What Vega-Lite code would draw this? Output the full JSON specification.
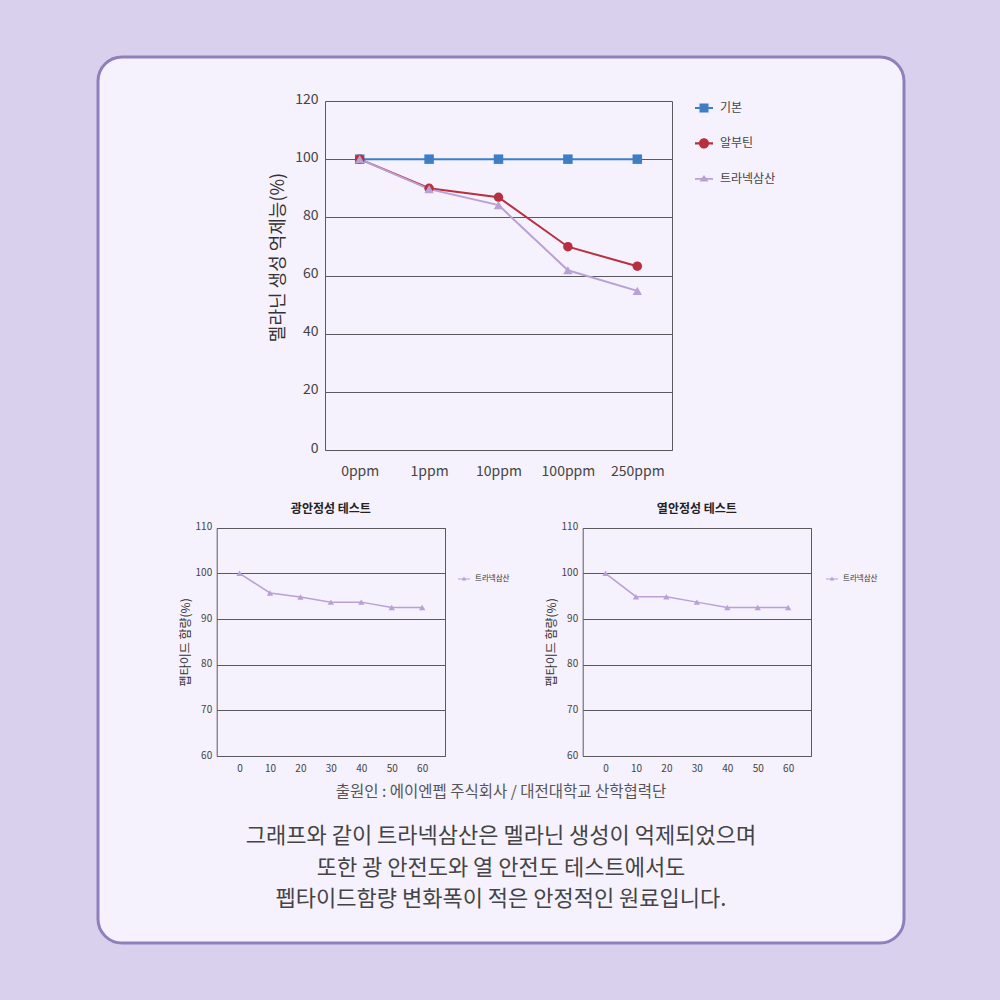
{
  "$schema": "https://vega.github.io/schema/vega-lite/v6.json",
  "width": 806,
  "height": 886,
  "autosize": {"type": "none"},
  "padding": {"left": 98, "top": 57, "right": 96, "bottom": 57},
  "background": "#d9d0ee",
  "view": {"fill": "#f5f1fd", "stroke": "#8e80bb", "strokeWidth": 3, "cornerRadius": 24, "opacity": 1, "fillOpacity": 1},
  "title": {
    "text": "출원인 : 에이엔펩 주식회사 / 대전대학교 산학협력단",
    "subtitle": ["그래프와 같이 트라넥삼산은 멜라닌 생성이 억제되었으며", "또한 광 안전도와 열 안전도 테스트에서도", "펩타이드함량 변화폭이 적은 안정적인 원료입니다."],
    "orient": "bottom",
    "anchor": "middle",
    "frame": "group",
    "offset": -158,
    "font": "Noto Sans CJK KR",
    "fontSize": 15.5,
    "fontWeight": "normal",
    "color": "#555555",
    "subtitleFont": "Noto Sans CJK KR",
    "subtitleFontSize": 22,
    "subtitleColor": "#444444",
    "subtitlePadding": 25.5,
    "subtitleLineHeight": 31.6
  },
  "layer": [
    {
      "data": {"values": [
        {"conc": "0ppm", "series": "기본", "value": 100},
        {"conc": "1ppm", "series": "기본", "value": 100},
        {"conc": "10ppm", "series": "기본", "value": 100},
        {"conc": "100ppm", "series": "기본", "value": 100},
        {"conc": "250ppm", "series": "기본", "value": 100},
        {"conc": "0ppm", "series": "알부틴", "value": 100},
        {"conc": "1ppm", "series": "알부틴", "value": 90},
        {"conc": "10ppm", "series": "알부틴", "value": 86.9},
        {"conc": "100ppm", "series": "알부틴", "value": 69.9},
        {"conc": "250ppm", "series": "알부틴", "value": 63.2},
        {"conc": "0ppm", "series": "트라넥삼산", "value": 100},
        {"conc": "1ppm", "series": "트라넥삼산", "value": 89.7},
        {"conc": "10ppm", "series": "트라넥삼산", "value": 84.2},
        {"conc": "100ppm", "series": "트라넥삼산", "value": 61.8},
        {"conc": "250ppm", "series": "트라넥삼산", "value": 54.7}
      ]},
      "layer": [
        {
          "mark": {"type": "line", "strokeWidth": 2},
          "encoding": {
            "x": {"field": "conc", "type": "nominal", "sort": ["0ppm", "1ppm", "10ppm", "100ppm", "250ppm"],
                  "scale": {"type": "point", "range": [227, 574], "padding": 0.5},
                  "axis": {"orient": "bottom", "offset": -493, "title": null, "grid": false, "ticks": false, "domain": true, "labelAngle": 0, "labelFontSize": 14, "labelPadding": 14, "labelColor": "#444444"}},
            "y": {"field": "value", "type": "quantitative",
                  "scale": {"domain": [0, 120], "range": [393, 44], "nice": false, "zero": false},
                  "axis": {"orient": "left", "offset": -227, "values": [0, 20, 40, 60, 80, 100, 120], "grid": true, "ticks": false, "domain": true, "labelFontSize": 14, "labelPadding": 7, "labelOffset": -2, "labelColor": "#444444",
                           "title": "멜라닌 생성 억제능(%)", "titleFontSize": 18, "titleFontWeight": "normal", "titleColor": "#333333", "titleX": -47, "titleY": 200, "titleBaseline": "middle", "titleAngle": -90}},
            "color": {"field": "series", "type": "nominal",
                      "scale": {"domain": ["기본", "알부틴", "트라넥삼산"], "range": ["#3d7ec6", "#b8303f", "#b9a1d5"]},
                      "legend": null}
          }
        },
        {
          "mark": {"type": "point", "filled": true, "size": 90, "opacity": 1},
          "encoding": {
            "x": {"field": "conc", "type": "nominal", "sort": ["0ppm", "1ppm", "10ppm", "100ppm", "250ppm"],
                  "scale": {"type": "point", "range": [227, 574], "padding": 0.5}, "axis": null},
            "y": {"field": "value", "type": "quantitative",
                  "scale": {"domain": [0, 120], "range": [393, 44], "nice": false, "zero": false}, "axis": null},
            "color": {"field": "series", "type": "nominal",
                      "scale": {"domain": ["기본", "알부틴", "트라넥삼산"], "range": ["#3d7ec6", "#b8303f", "#b9a1d5"]},
                      "legend": null},
            "shape": {"field": "series", "type": "nominal",
                      "scale": {"domain": ["기본", "알부틴", "트라넥삼산"], "range": ["square", "circle", "triangle-up"]},
                      "legend": null}
          }
        },
        {
          "mark": {"type": "point", "opacity": 0},
          "encoding": {
            "y": {"field": "value", "type": "quantitative",
                  "scale": {"domain": [0, 120], "range": [393, 44], "nice": false, "zero": false},
                  "axis": {"orient": "right", "offset": -232, "labels": false, "ticks": false, "grid": false, "title": null, "domain": true}}
          }
        },
        {
          "data": {"values": [{"series": "기본"}]},
          "mark": {"type": "point", "opacity": 0, "filled": true},
          "encoding": {
            "color": {"field": "series", "type": "nominal",
                      "scale": {"domain": ["기본"], "range": ["#3d7ec6"]},
                      "legend": {"orient": "none", "legendX": 597, "legendY": 42, "title": null, "padding": 0,
                                 "symbolSize": 324, "labelFontSize": 12, "labelColor": "#444444", "labelOffset": 7,
                                 "encode": {"symbols": {"update": {
                                   "shape": {"value": "M-1,-0.12H1V0.12H-1Z M-0.5,-0.5H0.5V0.5H-0.5Z"},
                                   "fill": {"value": "#3d7ec6"},
                                   "stroke": {"value": "transparent"},
                                   "strokeWidth": {"value": 0},
                                   "size": {"value": 324},
                                   "opacity": {"value": 1}
                                 }}}}}
          }
        },
        {
          "data": {"values": [{"series": "알부틴"}]},
          "mark": {"type": "point", "opacity": 0, "filled": true},
          "encoding": {
            "color": {"field": "series", "type": "nominal",
                      "scale": {"domain": ["알부틴"], "range": ["#b8303f"]},
                      "legend": {"orient": "none", "legendX": 597, "legendY": 77.4, "title": null, "padding": 0,
                                 "symbolSize": 324, "labelFontSize": 12, "labelColor": "#444444", "labelOffset": 7,
                                 "encode": {"symbols": {"update": {
                                   "shape": {"value": "M-1,-0.12H1V0.12H-1Z M-0.56,0 A0.56,0.56 0 1,1 0.56,0 A0.56,0.56 0 1,1 -0.56,0Z"},
                                   "fill": {"value": "#b8303f"},
                                   "stroke": {"value": "transparent"},
                                   "strokeWidth": {"value": 0},
                                   "size": {"value": 324},
                                   "opacity": {"value": 1}
                                 }}}}}
          }
        },
        {
          "data": {"values": [{"series": "트라넥삼산"}]},
          "mark": {"type": "point", "opacity": 0, "filled": true},
          "encoding": {
            "color": {"field": "series", "type": "nominal",
                      "scale": {"domain": ["트라넥삼산"], "range": ["#b9a1d5"]},
                      "legend": {"orient": "none", "legendX": 597, "legendY": 112.8, "title": null, "padding": 0,
                                 "symbolSize": 324, "labelFontSize": 12, "labelColor": "#444444", "labelOffset": 7,
                                 "encode": {"symbols": {"update": {
                                   "shape": {"value": "M-1,-0.1H1V0.1H-1Z M0,-0.42L0.5,0.3L-0.5,0.3Z"},
                                   "fill": {"value": "#b9a1d5"},
                                   "stroke": {"value": "transparent"},
                                   "strokeWidth": {"value": 0},
                                   "size": {"value": 324},
                                   "opacity": {"value": 1}
                                 }}}}}
          }
        }
      ],
      "resolve": {"axis": {"y": "independent", "x": "independent"}, "scale": {"color": "independent"}, "legend": {"color": "independent"}}
    },
    {
      "data": {"values": [
        {"t": 0, "v": 100, "s": "트라넥삼산"},
        {"t": 10, "v": 95.7, "s": "트라넥삼산"},
        {"t": 20, "v": 94.8, "s": "트라넥삼산"},
        {"t": 30, "v": 93.7, "s": "트라넥삼산"},
        {"t": 40, "v": 93.7, "s": "트라넥삼산"},
        {"t": 50, "v": 92.5, "s": "트라넥삼산"},
        {"t": 60, "v": 92.5, "s": "트라넥삼산"}
      ]},
      "layer": [
        {
          "mark": {"type": "line", "strokeWidth": 1.5, "point": {"filled": true, "size": 40, "shape": "triangle-up", "opacity": 1}},
          "encoding": {
            "x": {"field": "t", "type": "quantitative",
                  "scale": {"domain": [-7.5, 67.5], "range": [118.7, 347], "nice": false, "zero": false},
                  "axis": {"orient": "bottom", "offset": -187, "values": [0, 10, 20, 30, 40, 50, 60], "title": null, "grid": false, "ticks": false, "domain": true, "labelFontSize": 10, "labelPadding": 7, "labelColor": "#444444"}},
            "y": {"field": "v", "type": "quantitative",
                  "scale": {"domain": [60, 110], "range": [699, 470.7], "nice": false, "zero": false},
                  "axis": {"orient": "left", "offset": -118.7, "values": [60, 70, 80, 90, 100, 110], "grid": true, "ticks": false, "domain": true, "labelFontSize": 10, "labelPadding": 5, "labelOffset": -1, "labelColor": "#444444",
                           "title": "펩타이드 함량(%)", "titleFontSize": 12, "titleFontWeight": "normal", "titleColor": "#333333", "titleX": -31.7, "titleBaseline": "middle", "titleAngle": -90}},
            "color": {"field": "s", "type": "nominal",
                      "scale": {"domain": ["트라넥삼산"], "range": ["#b9a1d5"]},
                      "legend": {"orient": "none", "legendX": 360, "legendY": 516, "title": null, "padding": 0,
                                 "symbolSize": 144, "labelFontSize": 7.5, "labelColor": "#333333", "labelOffset": 5,
                                 "encode": {"symbols": {"update": {
                                   "shape": {"value": "M-1,-0.09H1V0.09H-1Z M0,-0.4L0.38,0.24L-0.38,0.24Z"},
                                   "fill": {"value": "#b9a1d5"},
                                   "stroke": {"value": "transparent"},
                                   "strokeWidth": {"value": 0},
                                   "size": {"value": 144},
                                   "opacity": {"value": 1}
                                 }}}}}
          }
        },
        {
          "data": {"values": [{"title": "광안정성 테스트"}]},
          "mark": {"type": "text", "fontSize": 12, "fontWeight": "bold", "color": "#222222", "baseline": "middle", "align": "center"},
          "encoding": {
            "text": {"field": "title"},
            "x": {"datum": 30, "type": "quantitative", "scale": {"domain": [-7.5, 67.5], "range": [118.7, 347], "nice": false, "zero": false}, "axis": null},
            "y": {"datum": 114.1, "type": "quantitative",
                  "scale": {"domain": [60, 110], "range": [699, 470.7], "nice": false, "zero": false},
                  "axis": {"orient": "right", "offset": -459, "labels": false, "ticks": false, "grid": false, "title": null, "domain": true}}
          }
        }
      ],
      "resolve": {"axis": {"y": "independent", "x": "independent"}}
    },
    {
      "data": {"values": [
        {"t": 0, "v": 100, "s": "트라넥삼산"},
        {"t": 10, "v": 94.9, "s": "트라넥삼산"},
        {"t": 20, "v": 94.9, "s": "트라넥삼산"},
        {"t": 30, "v": 93.7, "s": "트라넥삼산"},
        {"t": 40, "v": 92.5, "s": "트라넥삼산"},
        {"t": 50, "v": 92.5, "s": "트라넥삼산"},
        {"t": 60, "v": 92.5, "s": "트라넥삼산"}
      ]},
      "layer": [
        {
          "mark": {"type": "line", "strokeWidth": 1.5, "point": {"filled": true, "size": 40, "shape": "triangle-up", "opacity": 1}},
          "encoding": {
            "x": {"field": "t", "type": "quantitative",
                  "scale": {"domain": [-7.5, 67.5], "range": [484.7, 713], "nice": false, "zero": false},
                  "axis": {"orient": "bottom", "offset": -187, "values": [0, 10, 20, 30, 40, 50, 60], "title": null, "grid": false, "ticks": false, "domain": true, "labelFontSize": 10, "labelPadding": 7, "labelColor": "#444444"}},
            "y": {"field": "v", "type": "quantitative",
                  "scale": {"domain": [60, 110], "range": [699, 470.7], "nice": false, "zero": false},
                  "axis": {"orient": "left", "offset": -484.7, "values": [60, 70, 80, 90, 100, 110], "grid": true, "ticks": false, "domain": true, "labelFontSize": 10, "labelPadding": 5, "labelOffset": -1, "labelColor": "#444444",
                           "title": "펩타이드 함량(%)", "titleFontSize": 12, "titleFontWeight": "normal", "titleColor": "#333333", "titleX": -31.7, "titleBaseline": "middle", "titleAngle": -90}},
            "color": {"field": "s", "type": "nominal",
                      "scale": {"domain": ["트라넥삼산"], "range": ["#b9a1d5"]},
                      "legend": {"orient": "none", "legendX": 728, "legendY": 516, "title": null, "padding": 0,
                                 "symbolSize": 144, "labelFontSize": 7.5, "labelColor": "#333333", "labelOffset": 5,
                                 "encode": {"symbols": {"update": {
                                   "shape": {"value": "M-1,-0.09H1V0.09H-1Z M0,-0.4L0.38,0.24L-0.38,0.24Z"},
                                   "fill": {"value": "#b9a1d5"},
                                   "stroke": {"value": "transparent"},
                                   "strokeWidth": {"value": 0},
                                   "size": {"value": 144},
                                   "opacity": {"value": 1}
                                 }}}}}
          }
        },
        {
          "data": {"values": [{"title": "열안정성 테스트"}]},
          "mark": {"type": "text", "fontSize": 12, "fontWeight": "bold", "color": "#222222", "baseline": "middle", "align": "center"},
          "encoding": {
            "text": {"field": "title"},
            "x": {"datum": 30, "type": "quantitative", "scale": {"domain": [-7.5, 67.5], "range": [484.7, 713], "nice": false, "zero": false}, "axis": null},
            "y": {"datum": 114.1, "type": "quantitative",
                  "scale": {"domain": [60, 110], "range": [699, 470.7], "nice": false, "zero": false},
                  "axis": {"orient": "right", "offset": -93, "labels": false, "ticks": false, "grid": false, "title": null, "domain": true}}
          }
        }
      ],
      "resolve": {"axis": {"y": "independent", "x": "independent"}}
    }
  ],
  "resolve": {
    "scale": {"x": "independent", "y": "independent", "color": "independent", "shape": "independent"},
    "axis": {"x": "independent", "y": "independent"},
    "legend": {"color": "independent", "shape": "independent"}
  },
  "config": {
    "font": "Noto Sans CJK KR",
    "view": {"fill": "#f5f1fd", "stroke": "#8e80bb", "strokeWidth": 3, "cornerRadius": 24},
    "axis": {"domainColor": "#5a5a5e", "gridColor": "#5a5a5e", "gridOpacity": 1, "gridWidth": 1, "domainWidth": 1, "labelFont": "Noto Sans CJK KR", "titleFont": "Noto Sans CJK KR"},
    "legend": {"labelFont": "Noto Sans CJK KR"},
    "text": {"font": "Noto Sans CJK KR"}
  }
}
